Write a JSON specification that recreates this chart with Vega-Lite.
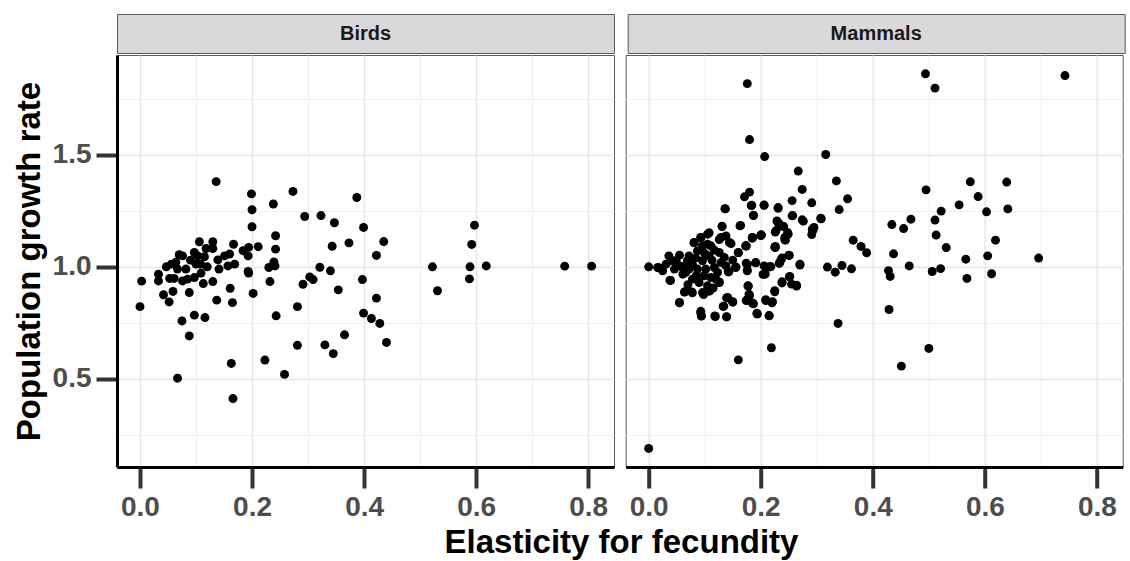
{
  "$schema": "https://vega.github.io/schema/vega-lite/v6.json",
  "background": "white",
  "padding": {"left": 12, "top": 13, "right": 5, "bottom": 5},
  "datasets": {
    "birds": [
      {"elasticity":0.003,"growth":0.936},{"elasticity":0.0,"growth":0.822},{"elasticity":0.033,"growth":0.967},{"elasticity":0.033,"growth":0.937},{"elasticity":0.042,"growth":0.875},{"elasticity":0.052,"growth":0.843},{"elasticity":0.059,"growth":0.890},{"elasticity":0.047,"growth":1.0},{"elasticity":0.056,"growth":1.012},{"elasticity":0.053,"growth":0.948},{"elasticity":0.061,"growth":0.948},{"elasticity":0.070,"growth":1.054},{"elasticity":0.076,"growth":1.049},{"elasticity":0.067,"growth":0.99},{"elasticity":0.076,"growth":0.937},{"elasticity":0.085,"growth":0.945},{"elasticity":0.088,"growth":0.885},{"elasticity":0.082,"growth":0.99},{"elasticity":0.097,"growth":1.064},{"elasticity":0.103,"growth":1.049},{"elasticity":0.106,"growth":1.112},{"elasticity":0.118,"growth":1.082},{"elasticity":0.130,"growth":1.112},{"elasticity":0.130,"growth":1.082},{"elasticity":0.100,"growth":1.012},{"elasticity":0.108,"growth":1.012},{"elasticity":0.109,"growth":0.972},{"elasticity":0.097,"growth":0.952},{"elasticity":0.113,"growth":0.925},{"elasticity":0.130,"growth":0.934},{"elasticity":0.075,"growth":0.758},{"elasticity":0.097,"growth":0.784},{"elasticity":0.116,"growth":0.773},{"elasticity":0.088,"growth":0.691},{"elasticity":0.139,"growth":1.031},{"elasticity":0.141,"growth":0.990},{"elasticity":0.151,"growth":1.049},{"elasticity":0.160,"growth":1.057},{"elasticity":0.157,"growth":1.004},{"elasticity":0.169,"growth":1.012},{"elasticity":0.167,"growth":1.101},{"elasticity":0.184,"growth":1.072},{"elasticity":0.194,"growth":1.087},{"elasticity":0.211,"growth":1.090},{"elasticity":0.193,"growth":1.049},{"elasticity":0.193,"growth":0.979},{"elasticity":0.194,"growth":0.972},{"elasticity":0.161,"growth":0.904},{"elasticity":0.137,"growth":0.851},{"elasticity":0.165,"growth":0.840},{"elasticity":0.202,"growth":0.881},{"elasticity":0.200,"growth":1.255},{"elasticity":0.200,"growth":1.179},{"elasticity":0.238,"growth":1.281},{"elasticity":0.242,"growth":1.139},{"elasticity":0.242,"growth":1.079},{"elasticity":0.239,"growth":1.022},{"elasticity":0.241,"growth":1.004},{"elasticity":0.230,"growth":0.997},{"elasticity":0.232,"growth":0.934},{"elasticity":0.243,"growth":0.781},{"elasticity":0.281,"growth":0.822},{"elasticity":0.294,"growth":1.225},{"elasticity":0.291,"growth":0.922},{"elasticity":0.281,"growth":0.649},
      {"elasticity":0.136,"growth":1.381},{"elasticity":0.199,"growth":1.326},{"elasticity":0.273,"growth":1.337},{"elasticity":0.323,"growth":1.229},{"elasticity":0.347,"growth":1.197},{"elasticity":0.387,"growth":1.310},{"elasticity":0.399,"growth":1.176},{"elasticity":0.597,"growth":1.186},{"elasticity":0.592,"growth":1.100},{"elasticity":0.435,"growth":1.113},{"elasticity":0.343,"growth":1.092},{"elasticity":0.373,"growth":1.107},{"elasticity":0.422,"growth":1.051},{"elasticity":0.522,"growth":1.0},{"elasticity":0.589,"growth":1.0},{"elasticity":0.618,"growth":1.004},{"elasticity":0.758,"growth":1.003},{"elasticity":0.806,"growth":1.003},{"elasticity":0.588,"growth":0.946},{"elasticity":0.531,"growth":0.893},{"elasticity":0.321,"growth":0.998},{"elasticity":0.340,"growth":0.982},{"elasticity":0.397,"growth":0.943},{"elasticity":0.303,"growth":0.955},{"elasticity":0.309,"growth":0.943},{"elasticity":0.354,"growth":0.897},{"elasticity":0.422,"growth":0.860},{"elasticity":0.399,"growth":0.793},{"elasticity":0.413,"growth":0.769},{"elasticity":0.428,"growth":0.747},{"elasticity":0.440,"growth":0.662},{"elasticity":0.365,"growth":0.696},{"elasticity":0.330,"growth":0.651},{"elasticity":0.345,"growth":0.612},{"elasticity":0.223,"growth":0.583},{"elasticity":0.258,"growth":0.519},{"elasticity":0.163,"growth":0.568},{"elasticity":0.166,"growth":0.411},{"elasticity":0.067,"growth":0.502},
      {"elasticity":0.090,"growth":1.030},{"elasticity":0.120,"growth":1.000},{"elasticity":0.115,"growth":1.045},{"elasticity":0.064,"growth":1.020}
    ],
    "mammals": [
      {"elasticity":0.176,"growth":1.819},{"elasticity":0.494,"growth":1.863},{"elasticity":0.511,"growth":1.799},{"elasticity":0.743,"growth":1.855},{"elasticity":0.180,"growth":1.569},{"elasticity":0.207,"growth":1.493},{"elasticity":0.316,"growth":1.502},{"elasticity":0.267,"growth":1.428},{"elasticity":0.335,"growth":1.384},{"elasticity":0.274,"growth":1.346},{"elasticity":0.495,"growth":1.344},{"elasticity":0.574,"growth":1.380},{"elasticity":0.639,"growth":1.379},{"elasticity":0.588,"growth":1.314},{"elasticity":0.641,"growth":1.259},{"elasticity":0.603,"growth":1.246},{"elasticity":0.554,"growth":1.277},{"elasticity":0.522,"growth":1.249},{"elasticity":0.511,"growth":1.209},{"elasticity":0.513,"growth":1.142},{"elasticity":0.531,"growth":1.086},{"elasticity":0.619,"growth":1.119},{"elasticity":0.468,"growth":1.213},{"elasticity":0.455,"growth":1.171},{"elasticity":0.434,"growth":1.189},{"elasticity":0.355,"growth":1.304},{"elasticity":0.340,"growth":1.256},{"elasticity":0.308,"growth":1.215},{"elasticity":0.291,"growth":1.286},{"elasticity":0.256,"growth":1.296},{"elasticity":0.257,"growth":1.229},{"elasticity":0.276,"growth":1.204},{"elasticity":0.293,"growth":1.162},{"elasticity":0.231,"growth":1.262},{"elasticity":0.206,"growth":1.276},{"elasticity":0.137,"growth":1.259},{"elasticity":0.171,"growth":1.313},{"elasticity":0.180,"growth":1.334},{"elasticity":0.183,"growth":1.274},{"elasticity":0.187,"growth":1.229},{"elasticity":0.164,"growth":1.185},{"elasticity":0.131,"growth":1.182},{"elasticity":0.232,"growth":1.194},{"elasticity":0.239,"growth":1.182},{"elasticity":0.226,"growth":1.155},{"elasticity":0.249,"growth":1.146},{"elasticity":0.244,"growth":1.119},{"elasticity":0.201,"growth":1.142},{"elasticity":0.185,"growth":1.128},{"elasticity":0.174,"growth":1.094},{"elasticity":0.365,"growth":1.119},{"elasticity":0.379,"growth":1.091},{"elasticity":0.226,"growth":1.086},{"elasticity":0.108,"growth":1.152},{"elasticity":0.093,"growth":1.130},{"elasticity":0.081,"growth":1.107},{"elasticity":0.126,"growth":1.122},{"elasticity":0.147,"growth":1.104},
      {"elasticity":0.0,"growth":0.188},{"elasticity":0.0,"growth":1.0},{"elasticity":0.018,"growth":0.996},{"elasticity":0.039,"growth":0.939},{"elasticity":0.055,"growth":0.839},{"elasticity":0.064,"growth":0.887},{"elasticity":0.078,"growth":0.884},{"elasticity":0.093,"growth":0.794},{"elasticity":0.094,"growth":0.780},{"elasticity":0.118,"growth":0.780},{"elasticity":0.139,"growth":0.776},{"elasticity":0.134,"growth":0.824},{"elasticity":0.150,"growth":0.842},{"elasticity":0.139,"growth":0.861},{"elasticity":0.098,"growth":0.876},{"elasticity":0.108,"growth":0.891},{"elasticity":0.126,"growth":0.932},{"elasticity":0.142,"growth":0.978},{"elasticity":0.156,"growth":0.999},{"elasticity":0.160,"growth":1.063},{"elasticity":0.174,"growth":1.093},{"elasticity":0.185,"growth":1.130},{"elasticity":0.200,"growth":1.140},{"elasticity":0.176,"growth":1.010},{"elasticity":0.176,"growth":0.985},{"elasticity":0.191,"growth":1.018},{"elasticity":0.204,"growth":0.966},{"elasticity":0.215,"growth":0.999},{"elasticity":0.178,"growth":0.914},{"elasticity":0.180,"growth":0.872},{"elasticity":0.174,"growth":0.849},{"elasticity":0.187,"growth":0.835},{"elasticity":0.194,"growth":0.789},{"elasticity":0.215,"growth":0.782},{"elasticity":0.209,"growth":0.849},{"elasticity":0.220,"growth":0.839},{"elasticity":0.225,"growth":0.888},{"elasticity":0.238,"growth":0.928},{"elasticity":0.251,"growth":0.955},{"elasticity":0.264,"growth":0.914},{"elasticity":0.233,"growth":1.015},{"elasticity":0.238,"growth":1.040},{"elasticity":0.251,"growth":1.051},{"elasticity":0.243,"growth":1.122},{"elasticity":0.225,"growth":1.088},{"elasticity":0.270,"growth":1.008},{"elasticity":0.291,"growth":1.144},{"elasticity":0.219,"growth":0.638},{"elasticity":0.160,"growth":0.584},{"elasticity":0.338,"growth":0.747},{"elasticity":0.319,"growth":0.999},{"elasticity":0.333,"growth":0.976},{"elasticity":0.345,"growth":1.006},{"elasticity":0.362,"growth":0.991},{"elasticity":0.389,"growth":1.063},{"elasticity":0.437,"growth":1.058},{"elasticity":0.428,"growth":0.983},{"elasticity":0.431,"growth":0.957},{"elasticity":0.429,"growth":0.809},{"elasticity":0.465,"growth":1.004},{"elasticity":0.451,"growth":0.556},{"elasticity":0.500,"growth":0.635},{"elasticity":0.506,"growth":0.979},{"elasticity":0.521,"growth":0.992},{"elasticity":0.566,"growth":1.034},{"elasticity":0.568,"growth":0.948},{"elasticity":0.605,"growth":1.049},{"elasticity":0.612,"growth":0.969},{"elasticity":0.696,"growth":1.039},
      {"elasticity":0.016,"growth":0.997},{"elasticity":0.025,"growth":0.982},{"elasticity":0.038,"growth":0.940},{"elasticity":0.036,"growth":1.049},{"elasticity":0.043,"growth":1.027},{"elasticity":0.031,"growth":1.012},{"elasticity":0.046,"growth":0.990},{"elasticity":0.055,"growth":1.052},{"elasticity":0.055,"growth":1.004},{"elasticity":0.061,"growth":0.967},{"elasticity":0.069,"growth":1.027},{"elasticity":0.072,"growth":0.990},{"elasticity":0.078,"growth":0.945},{"elasticity":0.081,"growth":1.109},{"elasticity":0.087,"growth":1.071},{"elasticity":0.093,"growth":1.131},{"elasticity":0.105,"growth":1.146},{"elasticity":0.096,"growth":1.027},{"elasticity":0.102,"growth":0.990},{"elasticity":0.108,"growth":1.049},{"elasticity":0.111,"growth":1.094},{"elasticity":0.117,"growth":0.997},{"elasticity":0.087,"growth":0.990},{"elasticity":0.078,"growth":1.012},{"elasticity":0.066,"growth":0.975},{"elasticity":0.099,"growth":0.960},{"elasticity":0.111,"growth":0.952},{"elasticity":0.090,"growth":0.930},{"elasticity":0.105,"growth":0.915},{"elasticity":0.096,"growth":0.885},{"elasticity":0.064,"growth":0.888},{"elasticity":0.077,"growth":0.888},{"elasticity":0.109,"growth":0.893},{"elasticity":0.126,"growth":0.930},{"elasticity":0.129,"growth":1.131},{"elasticity":0.138,"growth":1.138},{"elasticity":0.144,"growth":1.109},{"elasticity":0.126,"growth":1.064},{"elasticity":0.135,"growth":1.042},{"elasticity":0.129,"growth":1.019},{"elasticity":0.138,"growth":1.004},{"elasticity":0.123,"growth":0.975},{"elasticity":0.143,"growth":0.978},{"elasticity":0.155,"growth":0.997},{"elasticity":0.160,"growth":1.064},{"elasticity":0.173,"growth":1.094},{"elasticity":0.163,"growth":1.183},{"elasticity":0.131,"growth":1.180},{"elasticity":0.136,"growth":1.260},{"elasticity":0.185,"growth":1.131},{"elasticity":0.201,"growth":1.143},{"elasticity":0.187,"growth":1.231},{"elasticity":0.174,"growth":1.016},{"elasticity":0.176,"growth":0.982},{"elasticity":0.191,"growth":1.019},{"elasticity":0.206,"growth":1.004},{"elasticity":0.208,"growth":0.967},{"elasticity":0.218,"growth":1.001},{"elasticity":0.177,"growth":0.915},{"elasticity":0.179,"growth":0.878},{"elasticity":0.175,"growth":0.851},{"elasticity":0.185,"growth":0.838},{"elasticity":0.193,"growth":0.792},{"elasticity":0.215,"growth":0.781},{"elasticity":0.209,"growth":0.853},{"elasticity":0.221,"growth":0.844},{"elasticity":0.225,"growth":0.893},{"elasticity":0.238,"growth":0.933},{"elasticity":0.252,"growth":0.957},{"elasticity":0.264,"growth":0.918},{"elasticity":0.255,"growth":0.923},{"elasticity":0.236,"growth":1.031},{"elasticity":0.250,"growth":1.052},{"elasticity":0.234,"growth":1.019},{"elasticity":0.270,"growth":1.012},{"elasticity":0.226,"growth":1.091},{"elasticity":0.243,"growth":1.131},{"elasticity":0.248,"growth":1.153},{"elasticity":0.227,"growth":1.161},{"elasticity":0.234,"growth":1.183},{"elasticity":0.241,"growth":1.180},{"elasticity":0.229,"growth":1.205},{"elasticity":0.256,"growth":1.228},{"elasticity":0.274,"growth":1.210},{"elasticity":0.292,"growth":1.168},{"elasticity":0.295,"growth":1.176},{"elasticity":0.307,"growth":1.217},{"elasticity":0.206,"growth":1.275},{"elasticity":0.231,"growth":1.265},{"elasticity":0.184,"growth":1.275},{"elasticity":0.139,"growth":0.777},{"elasticity":0.119,"growth":0.778},{"elasticity":0.094,"growth":0.781},{"elasticity":0.093,"growth":0.801},{"elasticity":0.055,"growth":0.841},{"elasticity":0.133,"growth":0.823},{"elasticity":0.141,"growth":0.863},{"elasticity":0.150,"growth":0.844},{"elasticity":0.105,"growth":1.101},{"elasticity":0.096,"growth":1.094},{"elasticity":0.072,"growth":1.049},{"elasticity":0.049,"growth":1.027},
      {"elasticity":0.084,"growth":1.040},{"elasticity":0.100,"growth":1.060},{"elasticity":0.113,"growth":1.030},{"elasticity":0.120,"growth":0.945},{"elasticity":0.085,"growth":0.960},{"elasticity":0.070,"growth":0.920},{"elasticity":0.117,"growth":1.075},{"elasticity":0.060,"growth":1.000},{"elasticity":0.150,"growth":1.030},{"elasticity":0.115,"growth":0.905}
    ],
    "stripBirds": [{"label": "Birds"}],
    "stripMammals": [{"label": "Mammals"}]
  },
  "spacing": 0,
  "vconcat": [
    {
      "spacing": 11.7,
      "hconcat": [
        {
          "data": {"name": "stripBirds"},
          "width": 497,
          "height": 39,
          "view": {"fill": "#d9d9d9", "stroke": "#5a5a5a", "strokeWidth": 1},
          "mark": {"type": "text", "font": "Liberation Sans", "fontWeight": "bold", "fontSize": 20, "color": "#1a1a1a"},
          "encoding": {"text": {"field": "label", "type": "nominal"}}
        },
        {
          "data": {"name": "stripMammals"},
          "width": 497,
          "height": 39,
          "view": {"fill": "#d9d9d9", "stroke": "#5a5a5a", "strokeWidth": 1},
          "mark": {"type": "text", "font": "Liberation Sans", "fontWeight": "bold", "fontSize": 20, "color": "#1a1a1a"},
          "encoding": {"text": {"field": "label", "type": "nominal"}}
        }
      ]
    },
    {
      "spacing": 11.7,
      "bounds": "flush",
      "hconcat": [
        {
          "data": {"name": "birds"},
          "width": 497,
          "height": 412,
          "view": {"stroke": "#5a5a5a", "strokeWidth": 1},
          "mark": {"type": "circle", "size": 80, "color": "black", "opacity": 1},
          "encoding": {
            "x": {
              "field": "elasticity", "type": "quantitative",
              "scale": {"domain": [-0.041, 0.846], "nice": false, "zero": false},
              "axis": {
                "values": [0, 0.1, 0.2, 0.3, 0.4, 0.5, 0.6, 0.7, 0.8],
                "labelExpr": "abs(datum.value*5-round(datum.value*5))>0.001 ? '' : format(datum.value, '.1f')",
                "tickOpacity": {"condition": {"test": "abs(datum.value*5-round(datum.value*5))>0.001", "value": 0}, "value": 1},
                "gridWidth": {"condition": {"test": "abs(datum.value*5-round(datum.value*5))>0.001", "value": 1}, "value": 1.4},
                "gridColor": {"condition": {"test": "abs(datum.value*5-round(datum.value*5))>0.001", "value": "#efefef"}, "value": "#e6e6e6"},
                "title": "Elasticity for fecundity",
                "titleX": 504,
                "titleY": 85,
                "titleAlign": "center",
                "titleBaseline": "alphabetic"
              }
            },
            "y": {
              "field": "growth", "type": "quantitative",
              "scale": {"domain": [0.105, 1.947], "nice": false, "zero": false},
              "axis": {
                "values": [0.25, 0.5, 0.75, 1, 1.25, 1.5, 1.75],
                "labelExpr": "abs(datum.value*2-round(datum.value*2))>0.001 ? '' : format(datum.value, '.1f')",
                "tickOpacity": {"condition": {"test": "abs(datum.value*2-round(datum.value*2))>0.001", "value": 0}, "value": 1},
                "gridWidth": {"condition": {"test": "abs(datum.value*2-round(datum.value*2))>0.001", "value": 1}, "value": 1.4},
                "gridColor": {"condition": {"test": "abs(datum.value*2-round(datum.value*2))>0.001", "value": "#efefef"}, "value": "#e6e6e6"},
                "title": "Population growth rate",
                "titlePadding": 6
              }
            }
          }
        },
        {
          "data": {"name": "mammals"},
          "width": 497,
          "height": 412,
          "view": {"stroke": "#5a5a5a", "strokeWidth": 1},
          "mark": {"type": "circle", "size": 80, "color": "black", "opacity": 1},
          "encoding": {
            "x": {
              "field": "elasticity", "type": "quantitative",
              "scale": {"domain": [-0.041, 0.846], "nice": false, "zero": false},
              "axis": {
                "values": [0, 0.1, 0.2, 0.3, 0.4, 0.5, 0.6, 0.7, 0.8],
                "labelExpr": "abs(datum.value*5-round(datum.value*5))>0.001 ? '' : format(datum.value, '.1f')",
                "tickOpacity": {"condition": {"test": "abs(datum.value*5-round(datum.value*5))>0.001", "value": 0}, "value": 1},
                "gridWidth": {"condition": {"test": "abs(datum.value*5-round(datum.value*5))>0.001", "value": 1}, "value": 1.4},
                "gridColor": {"condition": {"test": "abs(datum.value*5-round(datum.value*5))>0.001", "value": "#efefef"}, "value": "#e6e6e6"},
                "title": null
              }
            },
            "y": {
              "field": "growth", "type": "quantitative",
              "scale": {"domain": [0.105, 1.947], "nice": false, "zero": false},
              "axis": {
                "values": [0.25, 0.5, 0.75, 1, 1.25, 1.5, 1.75],
                "labels": false,
                "ticks": false,
                "domain": false,
                "title": null,
                "gridWidth": {"condition": {"test": "abs(datum.value*2-round(datum.value*2))>0.001", "value": 1}, "value": 1.4},
                "gridColor": {"condition": {"test": "abs(datum.value*2-round(datum.value*2))>0.001", "value": "#efefef"}, "value": "#e6e6e6"}
              }
            }
          }
        }
      ]
    }
  ],
  "config": {
    "font": "Liberation Sans",
    "axis": {
      "grid": true,
      "domainColor": "black",
      "domainWidth": 3,
      "tickColor": "#333333",
      "tickWidth": 4,
      "tickSize": 21,
      "labelFont": "Liberation Sans",
      "labelFontWeight": "bold",
      "labelFontSize": 28,
      "labelColor": "#4d4d4d",
      "labelPadding": 5,
      "labelOverlap": false,
      "labelFlush": false,
      "titleFont": "Liberation Sans",
      "titleFontWeight": "bold",
      "titleFontSize": 33,
      "titleColor": "black"
    }
  }
}
